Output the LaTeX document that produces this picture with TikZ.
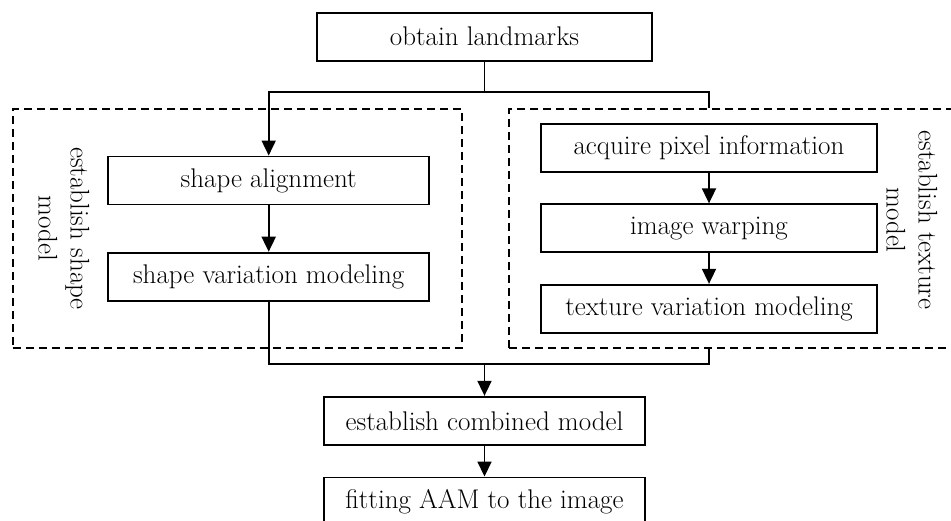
\documentclass[tikz,border=0pt]{standalone}
\usetikzlibrary{arrows.meta}

\begin{document}
\begin{tikzpicture}[x=1pt,y=-1pt,
  stepbox/.style={draw,line width=1.9pt,inner sep=0pt,minimum height=48pt,
    font=\fontsize{27}{31}\selectfont},
  groupbox/.style={draw,dashed,line width=2pt,dash pattern=on 8pt off 5pt,
    inner sep=0pt,minimum height=239pt},
  grouplabel/.style={rotate=-90,align=center,
    font=\fontsize{27}{32}\selectfont},
  link/.style={line width=1.8pt},
  flow/.style={link,-{Triangle[length=15pt,width=14pt]}}]
\useasboundingbox (0,0) rectangle (951,521);

% dashed groups for the two sub-models
\node[groupbox,minimum width=449pt] (shapegroup) at (237.2,228.5) {};
\node[groupbox,minimum width=480pt] (texgroup) at (749.3,228.5) {};
\node[grouplabel] (shapelabel) at (64,228.5) {establish shape\\model};
\node[grouplabel] (texlabel) at (912,220) {establish texture\\model};

% process steps
\node[stepbox,minimum width=335.6pt] (obtain) at (484.5,36.7) {obtain landmarks};
\node[stepbox,minimum width=320.7pt] (shapeal) at (268.7,180.5) {shape alignment};
\node[stepbox,minimum width=320.7pt] (shapevar) at (268.7,276.7) {shape variation modeling};
\node[stepbox,minimum width=336.6pt] (acquire) at (709,148) {acquire pixel information};
\node[stepbox,minimum width=336.6pt] (warp) at (709,228.3) {image warping};
\node[stepbox,minimum width=336.6pt] (texvar) at (709,308.8) {texture variation modeling};
\node[stepbox,minimum width=321pt] (combined) at (484.5,420.8) {establish combined model};
\node[stepbox,minimum width=321pt] (fitting) at (484.5,501.5) {fitting AAM to the image};

% branching below the first step
\coordinate (split) at (obtain.south |- 0,92);
\draw[link] (obtain.south) -- (split);
\draw[flow] (split) -| (shapeal.north);
\draw[link] (split) -| (acquire.north |- texgroup.north);

% steps inside the groups
\draw[flow] (shapeal) -- (shapevar);
\draw[flow] (acquire) -- (warp);
\draw[flow] (warp) -- (texvar);

% merging into the combined model
\coordinate (merge) at (combined.north |- 0,364);
\draw[link] (shapevar.south) |- (merge);
\draw[link] (acquire.north |- texgroup.south) |- (merge);
\draw[flow] (merge) -- (combined.north);
\draw[flow] (combined) -- (fitting);
\end{tikzpicture}
\end{document}
